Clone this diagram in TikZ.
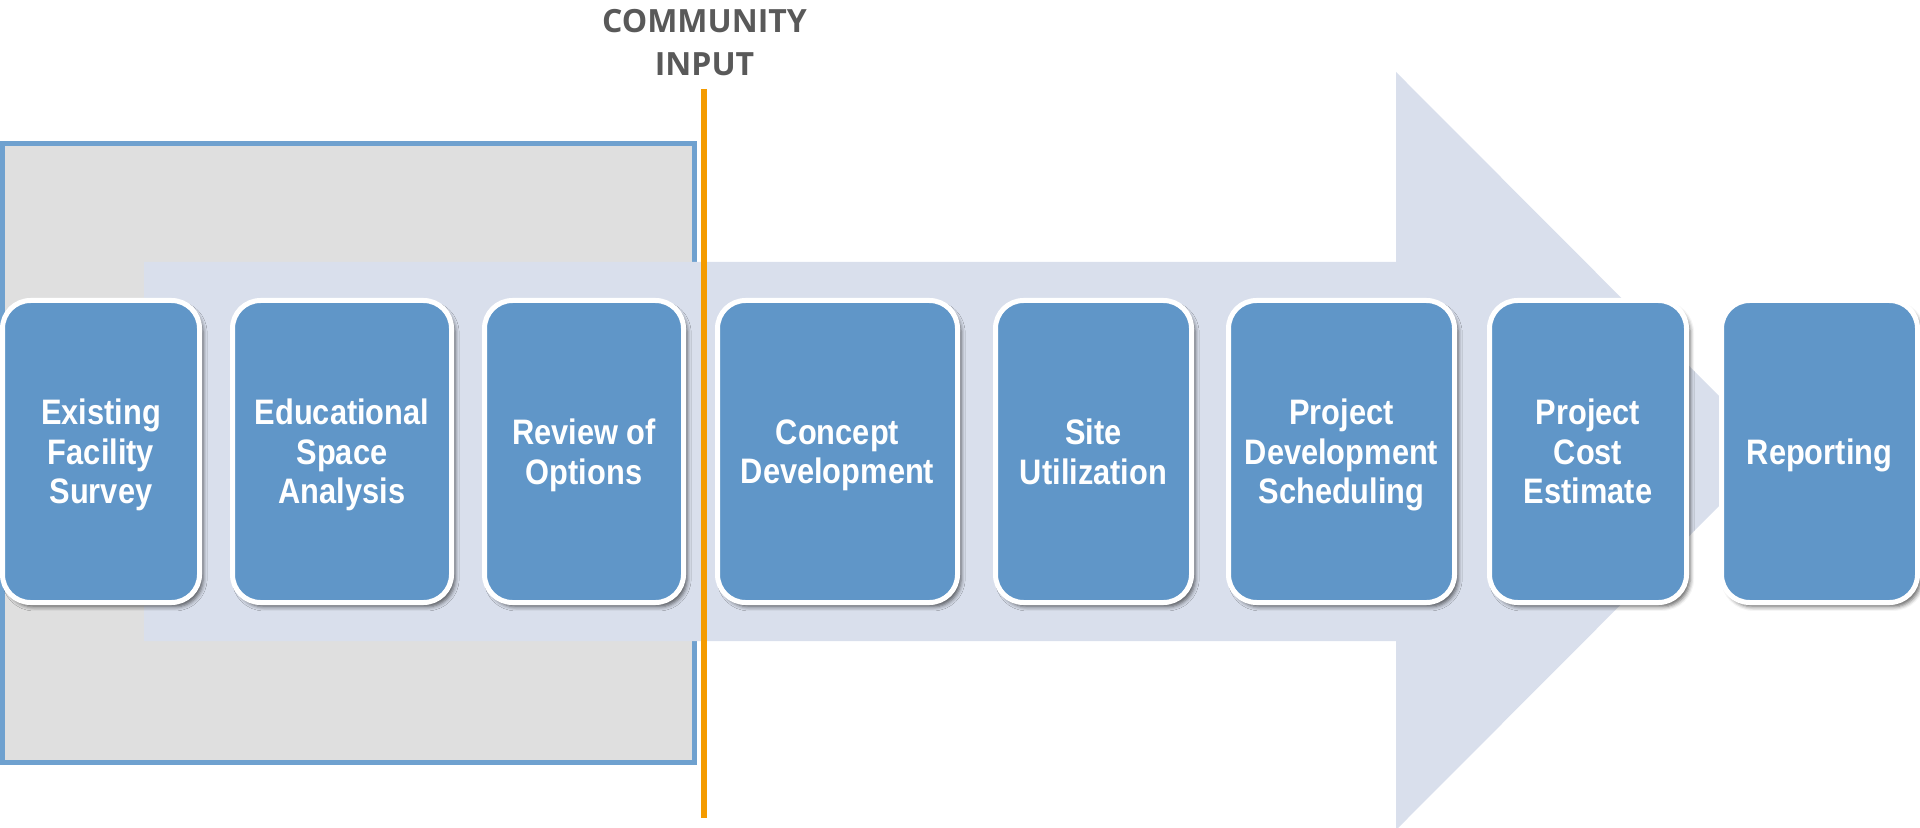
\documentclass[tikz,border=0pt]{standalone}
\usepackage{fontspec}
\setmainfont{Liberation Sans}
\newfontfamily\boxfont{Liberation Sans}[FakeStretch=0.87]
\newfontfamily\cifont{Open Sans}
\usetikzlibrary{shadows.blur}
\definecolor{arrowc}{HTML}{D9DFEC}
\definecolor{boxc}{HTML}{6096C8}
\definecolor{grayfill}{HTML}{DFDFDF}
\definecolor{grayline}{HTML}{6FA1CF}
\definecolor{orangec}{HTML}{F49B00}
\definecolor{textgray}{HTML}{595959}
\newcommand\lastln[1]{\raisebox{0pt}[\height][0pt]{#1}}
\tikzset{
  stagebox/.style={draw=white, line width=2.5pt, fill=boxc, rounded corners=14pt,
    minimum height=151pt, inner sep=0pt, align=center, text=white,
    font=\boxfont\bfseries\fontsize{17.7pt}{19.75pt}\selectfont,
    blur shadow={shadow xshift=1.8pt, shadow yshift=-2.2pt, shadow blur radius=2pt, shadow opacity=60}},
  inputlabel/.style={inner sep=0pt, align=center, text=textgray,
    font=\cifont\bfseries\fontsize{16pt}{21.5pt}\selectfont},
  orangeline/.style={draw=orangec, line width=3pt},
  graypanel/.style={fill=grayfill, draw=grayline, line width=2.5pt},
  bigarrow/.style={fill=arrowc}
}
\begin{document}
\begin{tikzpicture}[x=0.5pt, y=-0.5pt]
\useasboundingbox (0,0) rectangle (1920,828);
% gray panel
\draw[graypanel] (2,143.5) rectangle (694.5,762.5);
% big arrow
\fill[bigarrow] (144,262) -- (1396,262) -- (1396,72) -- (1774,451) -- (1396,830) -- (1396,641) -- (144,641) -- cycle;
% community input line
\coordinate (ol1) at (704,89);
\coordinate (ol2) at (704,818);
\draw[orangeline] (ol1) -- (ol2);
\node[inputlabel] (ci) at (704.5,42) {COMMUNITY\\\lastln{INPUT}};
% stages
\node[stagebox, minimum width=98.5pt]  (s1) at (101,451.5)    {Existing\\Facility\\\lastln{Survey}};
\node[stagebox, minimum width=109.5pt] (s2) at (342,451.5)    {Educational\\Space\\\lastln{Analysis}};
\node[stagebox, minimum width=99.5pt]  (s3) at (584,451.5)    {Review of\\\lastln{Options}};
\node[stagebox, minimum width=120pt]   (s4) at (837.5,451.5)  {Concept\\\lastln{Development}};
\node[stagebox, minimum width=98pt]    (s5) at (1093.5,451.5) {Site\\\lastln{Utilization}};
\node[stagebox, minimum width=113pt]   (s6) at (1341.5,451.5) {Project\\Development\\\lastln{Scheduling}};
\node[stagebox, minimum width=98.5pt]  (s7) at (1588,451.5)   {Project\\Cost\\\lastln{Estimate}};
\node[stagebox, minimum width=98pt]    (s8) at (1819.5,451.5) {\lastln{Reporting}};
\end{tikzpicture}
\end{document}
